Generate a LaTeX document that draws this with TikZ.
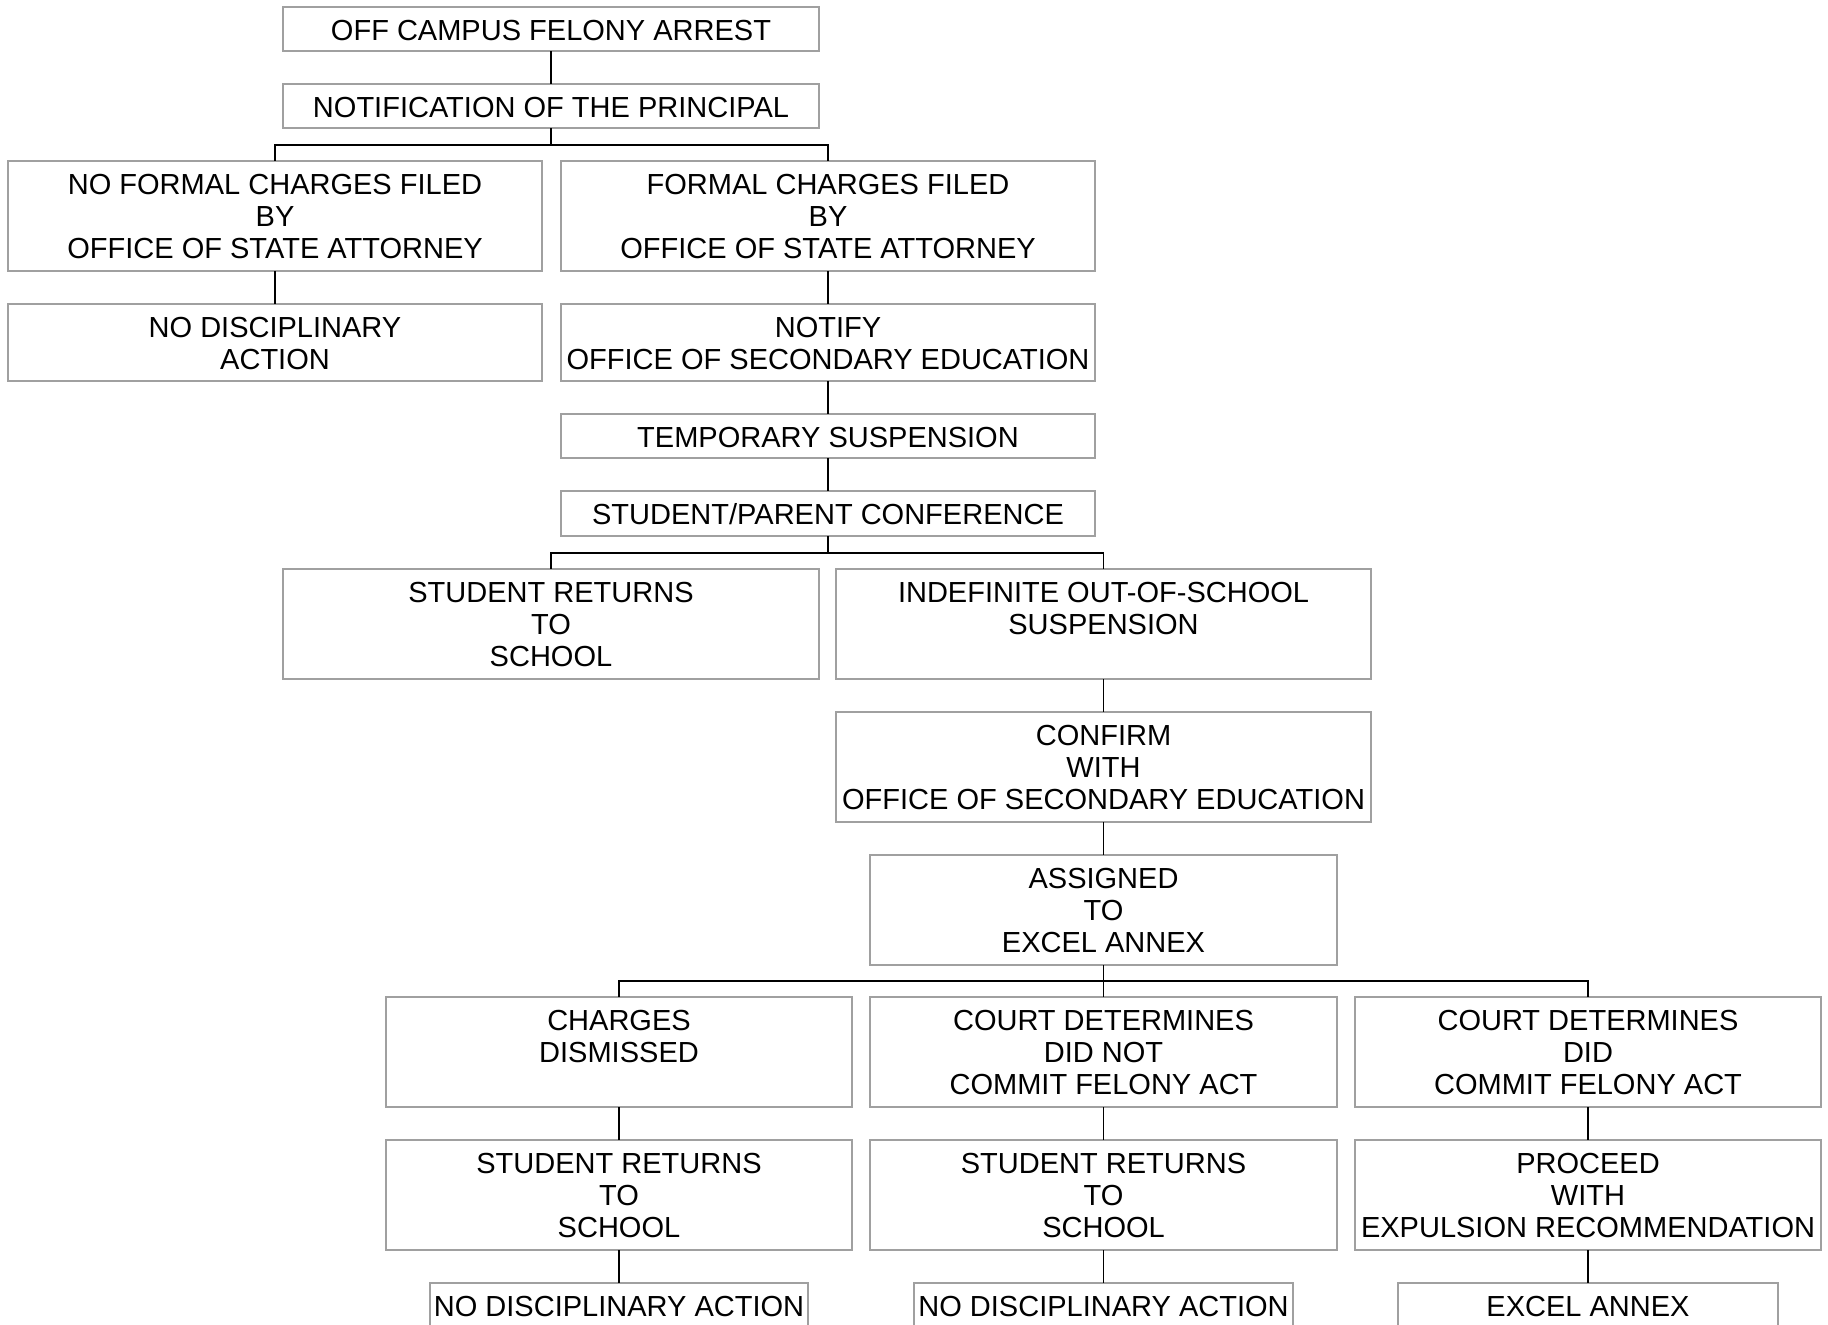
\documentclass[tikz,border=0pt]{standalone}
\usepackage{fontspec}
\setmainfont{Liberation Sans}
\usepackage{tikz}
\usetikzlibrary{positioning}

\definecolor{boxgray}{HTML}{A0A0A0}
\newcommand{\boxfont}{\fontsize{8.25pt}{9.13pt}\selectfont}
% text hangs from the top of each box
\newcommand{\cell}[3]{\parbox[t][#2][t]{#1}{\centering\rule{0pt}{0.33cm}#3}}

\begin{document}
\begin{tikzpicture}[
  x=0.01cm, y=-0.01cm,
  font=\boxfont,
  stepbox/.style={draw=boxgray, line width=0.55pt, inner sep=0pt, outer sep=0pt, anchor=north, fill=white},
  link/.style={draw=black, line width=0.5pt},
  node distance=0.33cm,
]
  \clip (0,0) rectangle (1828,1325);

  % Arrest and first split
  \node[stepbox] at (551,7) (start) {\cell{5.35cm}{0.44cm}{OFF CAMPUS FELONY ARREST}};
  \node[stepbox, below=of start] (notif) {\cell{5.35cm}{0.44cm}{NOTIFICATION OF THE PRINCIPAL}};

  \node[stepbox] at (275,161) (nofc) {\cell{5.34cm}{1.10cm}{NO FORMAL CHARGES FILED\\ BY\\ OFFICE OF STATE ATTORNEY}};
  \node[stepbox, below=of nofc] (nda1) {\cell{5.34cm}{0.77cm}{NO DISCIPLINARY\\ ACTION}};

  \node[stepbox] at (828,161) (fc) {\cell{5.34cm}{1.10cm}{FORMAL CHARGES FILED\\ BY\\ OFFICE OF STATE ATTORNEY}};
  \node[stepbox, below=of fc] (notify) {\cell{5.34cm}{0.77cm}{NOTIFY\\ OFFICE OF SECONDARY EDUCATION}};
  \node[stepbox, below=of notify] (temp) {\cell{5.34cm}{0.44cm}{TEMPORARY SUSPENSION}};
  \node[stepbox, below=of temp] (conf) {\cell{5.34cm}{0.45cm}{STUDENT/PARENT CONFERENCE}};

  % Conference outcome
  \node[stepbox] at (551,569) (ret1) {\cell{5.35cm}{1.10cm}{STUDENT RETURNS\\ TO\\ SCHOOL}};
  \node[stepbox] at (1103.5,569) (indef) {\cell{5.35cm}{1.10cm}{INDEFINITE OUT-OF-SCHOOL\\ SUSPENSION}};
  \node[stepbox, below=of indef] (confirm) {\cell{5.35cm}{1.10cm}{CONFIRM\\ WITH\\ OFFICE OF SECONDARY EDUCATION}};
  \node[stepbox, below=of confirm] (assigned) {\cell{4.67cm}{1.10cm}{ASSIGNED\\ TO\\ EXCEL ANNEX}};

  % Court outcome
  \node[stepbox] at (619,997) (dismissed) {\cell{4.66cm}{1.10cm}{CHARGES\\ DISMISSED}};
  \node[stepbox] at (1103.5,997) (cdnot) {\cell{4.67cm}{1.10cm}{COURT DETERMINES\\ DID NOT\\ COMMIT FELONY ACT}};
  \node[stepbox] at (1588,997) (cddid) {\cell{4.66cm}{1.10cm}{COURT DETERMINES\\ DID\\ COMMIT FELONY ACT}};

  \node[stepbox, below=of dismissed] (ret2) {\cell{4.66cm}{1.10cm}{STUDENT RETURNS\\ TO\\ SCHOOL}};
  \node[stepbox, below=of cdnot] (ret3) {\cell{4.67cm}{1.10cm}{STUDENT RETURNS\\ TO\\ SCHOOL}};
  \node[stepbox, below=of cddid] (proceed) {\cell{4.66cm}{1.10cm}{PROCEED\\ WITH\\ EXPULSION RECOMMENDATION}};

  \node[stepbox, below=of ret2] (nda2) {\cell{3.78cm}{0.60cm}{NO DISCIPLINARY ACTION}};
  \node[stepbox, below=of ret3] (nda3) {\cell{3.79cm}{0.60cm}{NO DISCIPLINARY ACTION}};
  \node[stepbox, below=of proceed] (excel) {\cell{3.79cm}{0.60cm}{EXCEL ANNEX}};

  % Connectors
  \draw[link] (start) -- (notif);
  \draw[link] (notif.south) -- ++(0,17) -| (nofc.north);
  \draw[link] (notif.south) -- ++(0,17) -| (fc.north);
  \draw[link] (nofc) -- (nda1);
  \draw[link] (fc) -- (notify);
  \draw[link] (notify) -- (temp);
  \draw[link] (temp) -- (conf);
  \draw[link] (conf.south) -- ++(0,17) -| (ret1.north);
  \draw[link] (conf.south) -- ++(0,17) -| (indef.north);
  \draw[link] (indef) -- (confirm);
  \draw[link] (confirm) -- (assigned);
  \draw[link] (assigned.south) -- ++(0,16) -| (dismissed.north);
  \draw[link] (assigned) -- (cdnot);
  \draw[link] (assigned.south) -- ++(0,16) -| (cddid.north);
  \draw[link] (dismissed) -- (ret2);
  \draw[link] (cdnot) -- (ret3);
  \draw[link] (cddid) -- (proceed);
  \draw[link] (ret2) -- (nda2);
  \draw[link] (ret3) -- (nda3);
  \draw[link] (proceed) -- (excel);
\end{tikzpicture}
\end{document}
